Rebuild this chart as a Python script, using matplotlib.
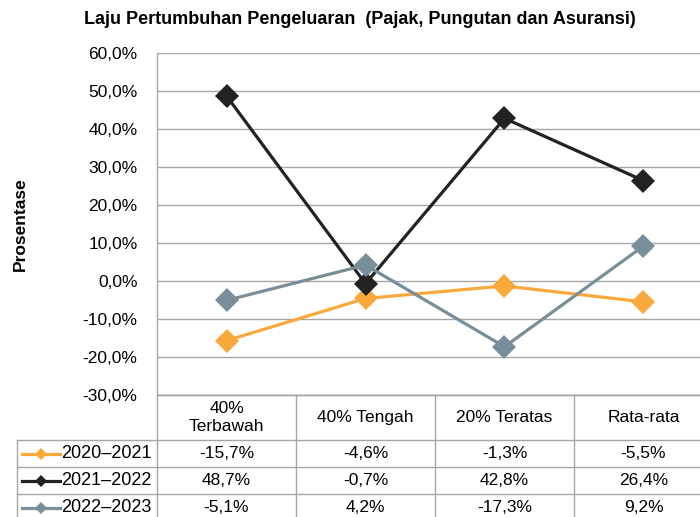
import matplotlib
matplotlib.use("Agg")
import matplotlib.pyplot as plt
from matplotlib.ticker import FuncFormatter

plt.rcParams['font.family'] = ['Liberation Sans', 'DejaVu Sans']

# Data
categories = ["40%\nTerbawah", "40% Tengah", "20% Teratas", "Rata-rata"]
series_names = ["2020\u20132021", "2021\u20132022", "2022\u20132023"]
v_2020_2021 = [-15.7, -4.6, -1.3, -5.5]
v_2021_2022 = [48.7, -0.7, 42.8, 26.4]
v_2022_2023 = [-5.1, 4.2, -17.3, 9.2]
series_values = [v_2020_2021, v_2021_2022, v_2022_2023]
series_colors = ["#F9A83B", "#222222", "#7A8E99"]
y_ticks = [-30, -20, -10, 0, 10, 20, 30, 40, 50, 60]

W, H = 700, 517
GRID = "#A6A6A6"
FS = 12.5

fig = plt.figure(figsize=(W / 100, H / 100), dpi=100)

# Plot area in pixel layout
px_left, px_top, px_bottom = 157, 53, 395
col_w = 139
n = len(categories)
ax = fig.add_axes([px_left / W, (H - px_bottom) / H,
                   n * col_w / W, (px_bottom - px_top) / H])
ax.set_xlim(-0.5, n - 0.5)
ax.set_ylim(y_ticks[0], y_ticks[-1])
ax.set_yticks(y_ticks)
ax.yaxis.set_major_formatter(FuncFormatter(lambda v, p: f"{v:.1f}%".replace(".", ",")))
ax.tick_params(axis='y', length=0, pad=14, labelsize=FS)
ax.set_xticks([])
ax.grid(axis='y', color=GRID, linewidth=1)
ax.set_axisbelow(True)
for side in ['top', 'right']:
    ax.spines[side].set_visible(False)
for side in ['left', 'bottom']:
    ax.spines[side].set_color(GRID)
    ax.spines[side].set_linewidth(1)

x = list(range(n))
for name, vals, col in zip(series_names, series_values, series_colors):
    ax.plot(x, vals, color=col, linewidth=2.3, marker='D', markersize=12.5,
            markeredgewidth=0, label=name, clip_on=False)

ax.set_ylabel("Prosentase", fontsize=12.5, fontweight='bold')
ax.yaxis.set_label_coords(-(px_left - 28) / (n * col_w), 0.50)

fig.text(360 / W, 1 - 20 / H,
         "Laju Pertumbuhan Pengeluaran  (Pajak, Pungutan dan Asuransi)",
         ha='center', va='center', fontsize=13, fontweight='bold')

# Data table below the plot
header_h, row_h = 45, 27
tab_h = header_h + row_h * len(series_names)
tab = fig.add_axes([px_left / W, (H - px_bottom - tab_h) / H,
                    n * col_w / W, tab_h / H])
tab.set_xlim(-0.5, n - 0.5)
tab.set_ylim(0, tab_h)
tab.axis('off')


def px_x(px):
    return (px - px_left) / col_w - 0.5


leg_left = px_x(17)
right = n - 0.5 + 0.2
line_kw = dict(color=GRID, linewidth=1, clip_on=False)

# horizontal rules
tab.plot([-0.5, right], [tab_h, tab_h], **line_kw)
for i in range(len(series_names)):
    yb = tab_h - header_h - i * row_h
    tab.plot([leg_left, right], [yb, yb], **line_kw)
# vertical rules
for i in range(n):
    tab.plot([i - 0.5, i - 0.5], [-5, tab_h], **line_kw)
tab.plot([leg_left, leg_left], [-5, tab_h - header_h], **line_kw)

# header labels
for i, c in enumerate(categories):
    tab.text(i, tab_h - header_h / 2, c, ha='center', va='center',
             fontsize=FS, linespacing=1.3)

# rows with legend keys and values
for r, (name, vals, col) in enumerate(zip(series_names, series_values, series_colors)):
    yc = tab_h - header_h - r * row_h - row_h / 2
    tab.plot([px_x(22), px_x(60)], [yc, yc], color=col, linewidth=2.3, clip_on=False)
    tab.plot([px_x(41)], [yc], color=col, marker='D', markersize=6.5,
             markeredgewidth=0, clip_on=False)
    tab.text(px_x(61), yc, name, ha='left', va='center', fontsize=13)
    for i, v in enumerate(vals):
        tab.text(i, yc, f"{v:.1f}%".replace(".", ","), ha='center', va='center',
                 fontsize=FS)

fig.savefig("out.png", dpi=100)
